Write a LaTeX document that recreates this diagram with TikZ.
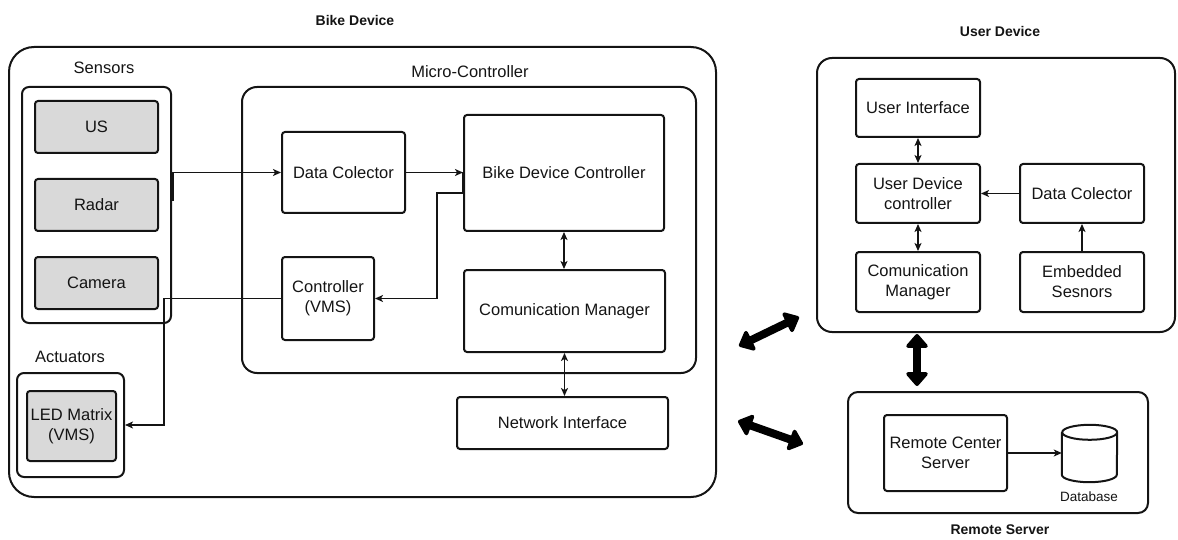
\documentclass[tikz,border=0pt]{standalone}
\usepackage{fontspec}
\setmainfont{Liberation Sans}
\usetikzlibrary{arrows.meta,calc}
\definecolor{boxgray}{RGB}{217,217,217}
\definecolor{ink}{RGB}{20,20,20}
\newcommand{\bodysz}{\fontsize{16.5}{20}\selectfont}
\newcommand{\titlesz}{\fontsize{14}{17}\selectfont\bfseries}
\newcommand{\smallsz}{\fontsize{13.5}{16}\selectfont}
\begin{document}
\begin{tikzpicture}[x=1pt,y=-1pt,
  box/.style={draw=ink, line width=2pt, rounded corners=3pt, align=center,
    font=\bodysz, inner sep=1pt, text=ink},
  graybox/.style={box, fill=boxgray},
  group/.style={draw=ink, line width=2pt, inner sep=0pt},
  lbl/.style={font=\bodysz, text=ink, inner sep=0pt},
  title/.style={font=\titlesz, text=ink, inner sep=0pt},
  conn/.style={draw=ink, line width=1.3pt, -{Stealth[length=8pt,width=7pt,inset=2pt]}},
  biconn/.style={draw=ink, line width=1.3pt, {Stealth[length=8pt,width=7pt,inset=2pt]}-{Stealth[length=8pt,width=7pt,inset=2pt]}},
  bigarrow/.style={draw=black, line width=8pt, line join=round,
    {Triangle[length=15pt,width=25pt,round]}-{Triangle[length=15pt,width=25pt,round]}}
]
\useasboundingbox (0,0) rectangle (1178,540);

% ---------- Bike device ----------
\node[title] (biketitle) at (355,20) {Bike Device};
\node[group, rounded corners=25pt, minimum width=707pt, minimum height=450pt] (bike) at (362.5,272) {};

\node[lbl] (senslbl) at (104,68) {Sensors};
\node[group, rounded corners=7pt, minimum width=149pt, minimum height=236pt] (sensors) at (96.5,205) {};
\node[graybox, minimum width=123pt, minimum height=52pt] (us) at (96.5,127) {US};
\node[graybox, minimum width=123pt, minimum height=52pt] (radar) at (96.5,205) {Radar};
\node[graybox, minimum width=123pt, minimum height=52pt] (camera) at (96.5,283) {Camera};

\node[lbl] (actlbl) at (70,357) {Actuators};
\node[group, rounded corners=7pt, minimum width=107pt, minimum height=104pt] (actuators) at (70.5,425) {};
\node[graybox, minimum width=89pt, minimum height=70pt] (led) at (71.5,426) {LED Matrix\\(VMS)};

\node[lbl] (mclbl) at (470,72) {Micro-Controller};
\node[group, rounded corners=15pt, minimum width=454pt, minimum height=286pt] (micro) at (469,230) {};
\node[box, minimum width=123pt, minimum height=81pt] (datacol) at (343.5,172.5) {Data Colector};
\node[box, minimum width=200pt, minimum height=116pt] (bdc) at (564,173) {Bike Device Controller};
\node[box, minimum width=92pt, minimum height=83pt] (vms) at (328,298.5) {Controller\\(VMS)};
\node[box, minimum width=201pt, minimum height=82pt] (cm) at (564.5,311) {Comunication Manager};
\node[box, minimum width=211pt, minimum height=52pt] (ni) at (562.5,423) {Network Interface};

% sensor bus into the data collector
\draw[ink, line width=3pt] (datacol.west -| sensors.east) -- ++(0,29);
\draw[conn] (datacol.west -| sensors.east) -- (datacol.west);
% collector feeds the controller; controller drives the VMS, which drives the LED matrix
\draw[ink, line width=3pt] (datacol.east -| bdc.west) -- ([yshift=-20pt]bdc.west);
\draw[conn] (datacol.east) -- (datacol.east -| bdc.west);
\draw[conn] ([yshift=-20pt]bdc.west) -- ++(-26,0) |- (vms.east);
\draw[conn] (vms.west) -- ++(-117,0) |- (actuators.east);
\draw[biconn] (bdc.south) -- (bdc.south |- cm.north);
\draw[biconn] (cm.south) -- (cm.south |- ni.north);

% ---------- User device ----------
\node[title] (usertitle) at (1000,31) {User Device};
\node[group, rounded corners=15pt, minimum width=358pt, minimum height=274pt] (user) at (996,195) {};
\node[box, minimum width=124pt, minimum height=58pt] (ui) at (918,108) {User Interface};
\node[box, minimum width=124pt, minimum height=59pt] (udc) at (918,193.5) {User Device\\controller};
\node[box, minimum width=124pt, minimum height=60pt] (ucm) at (918,282) {Comunication\\Manager};
\node[box, minimum width=124pt, minimum height=59pt] (udata) at (1082,193.5) {Data Colector};
\node[box, minimum width=124pt, minimum height=60pt] (emb) at (1082,282) {Embedded\\Sesnors};

\draw[biconn] (ui.south) -- (udc.north);
\draw[biconn] (udc.south) -- (ucm.north);
\draw[conn] (udata.west) -- (udc.east);
\draw[conn] (emb.north) -- (udata.south);

% ---------- Remote server ----------
\node[group, rounded corners=10pt, minimum width=300pt, minimum height=121pt] (remote) at (998,452.5) {};
\node[title] (remotetitle) at (1000,530) {Remote Server};
\node[box, minimum width=123pt, minimum height=76pt] (rcs) at (945.5,453) {Remote Center\\Server};
\node[inner sep=0pt, minimum width=55pt, minimum height=57pt] (db) at (1089.5,453.5) {};
\draw[draw=ink, line width=2pt]
  ([yshift=-7.5pt]db.north west) -- ([yshift=7.5pt]db.south west)
  arc[start angle=180, end angle=360, x radius=27.5pt, y radius=7.5pt]
  -- ([yshift=-7.5pt]db.north east)
  arc[start angle=0, end angle=360, x radius=27.5pt, y radius=7.5pt];
\node[font=\smallsz, text=ink, inner sep=0pt] (dblbl) at (1089,497) {Database};
\draw[conn] (rcs.east) -- (rcs.east -| db.west);

% ---------- links between devices ----------
\coordinate (a1) at (739,346);
\coordinate (a2) at (799,317);
\coordinate (b1) at (917,334);
\coordinate (b2) at (917,386);
\coordinate (c1) at (738,421);
\coordinate (c2) at (803,444);
\draw[bigarrow] (a1) -- (a2);
\draw[bigarrow] (b1) -- (b2);
\draw[bigarrow] (c1) -- (c2);
\end{tikzpicture}
\end{document}
